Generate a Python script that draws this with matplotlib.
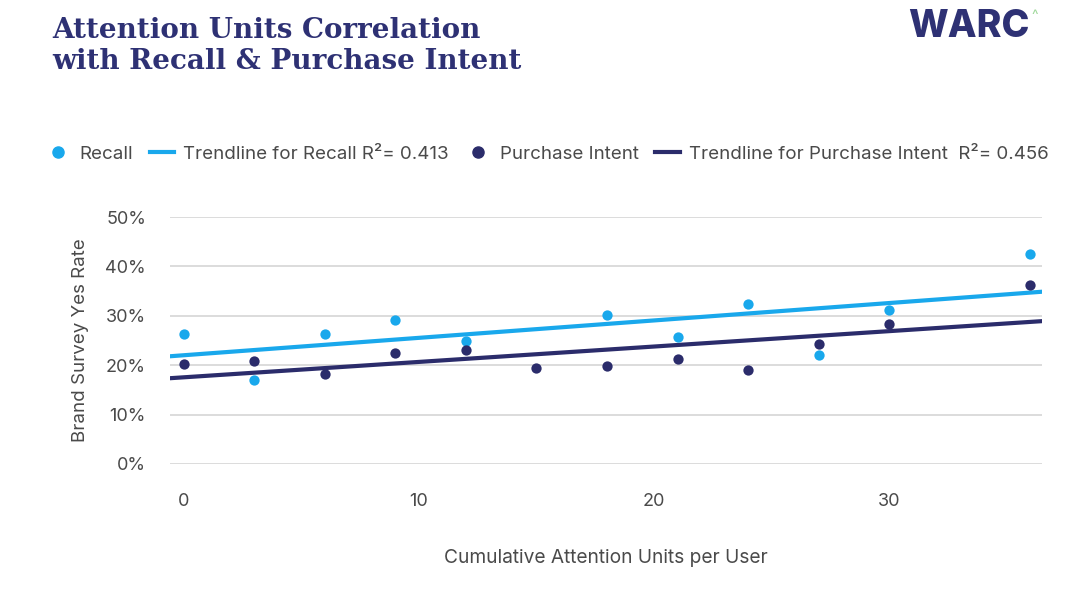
import numpy as np
import matplotlib.pyplot as plt
from matplotlib.lines import Line2D

plt.rcParams['font.family'] = ['Inter', 'DejaVu Sans']

# Data
recall_x = [0, 3, 6, 9, 12, 18, 21, 24, 27, 30, 36]
recall_y = [26.3, 17.0, 26.3, 29.1, 24.9, 30.2, 25.7, 32.4, 22.1, 31.2, 42.5]

intent_x = [0, 3, 6, 9, 12, 15, 18, 21, 24, 27, 30, 36]
intent_y = [20.2, 20.9, 18.2, 22.5, 23.1, 19.4, 19.8, 21.3, 19.0, 24.3, 28.3, 36.2]

x_ticks = [0, 10, 20, 30]
y_ticks = [0, 10, 20, 30, 40, 50]

light_blue = '#19a8ec'
navy = '#2b2c6b'
grey_text = '#4a4a4a'

fig = plt.figure(figsize=(10.8, 6), dpi=100)
ax = fig.add_axes([0.157, 0.2267, 0.808, 0.4116])

xmin, xmax = -0.6, 36.5

# Scatter points
ax.scatter(recall_x, recall_y, s=55, color=light_blue, zorder=3, linewidths=0)
ax.scatter(intent_x, intent_y, s=55, color=navy, zorder=3, linewidths=0)

# Linear trendlines
xs = np.array([xmin, xmax])
r_fit = np.polyfit(recall_x, recall_y, 1)
p_fit = np.polyfit(intent_x, intent_y, 1)
ax.plot(xs, np.polyval(r_fit, xs), color=light_blue, lw=3, zorder=2, solid_capstyle='butt')
ax.plot(xs, np.polyval(p_fit, xs), color=navy, lw=3, zorder=2, solid_capstyle='butt')

ax.set_xlim(xmin, xmax)
ax.set_ylim(0, 50)
ax.set_xticks(x_ticks)
ax.set_yticks(y_ticks)
ax.set_yticklabels([f'{v}%' for v in y_ticks])
ax.tick_params(axis='both', length=0, labelsize=13, colors=grey_text)
ax.tick_params(axis='x', pad=21)
ax.tick_params(axis='y', pad=17)
ax.grid(axis='y', color='#d6d6d6', lw=1.2)
ax.set_axisbelow(True)
for s in ax.spines.values():
    s.set_visible(False)

ax.set_xlabel('Cumulative Attention Units per User', fontsize=13.8, color=grey_text, labelpad=28)
ax.set_ylabel('Brand Survey Yes Rate', fontsize=13.5, color=grey_text, labelpad=12)

# Legend
handles = [
    Line2D([], [], marker='o', ls='none', color=light_blue, markersize=8),
    Line2D([], [], color=light_blue, lw=3),
    Line2D([], [], marker='o', ls='none', color=navy, markersize=8),
    Line2D([], [], color=navy, lw=3),
]
labels = ['Recall', 'Trendline for Recall R²= 0.413', 'Purchase Intent',
          'Trendline for Purchase Intent  R²= 0.456']
fig.legend(handles, labels, loc='center left', bbox_to_anchor=(0.042, 0.743), ncol=4,
           frameon=False, fontsize=13.5, labelcolor=grey_text, handlelength=1.3,
           handletextpad=0.5, columnspacing=0.9, borderaxespad=0, borderpad=0)

# Title and logo
fig.text(0.048, 0.972, 'Attention Units Correlation\nwith Recall & Purchase Intent',
         fontsize=20, fontweight='bold', family='DejaVu Serif', color='#2e3174',
         va='top', ha='left', linespacing=1.22)
fig.text(0.953, 0.985, 'WARC', fontsize=27, fontweight='heavy', color='#2e3174',
         va='top', ha='right')
fig.text(0.955, 0.985, '^', fontsize=10, color='#9fd89a', va='top', ha='left')

fig.savefig('out.png', dpi=100, facecolor='white')
